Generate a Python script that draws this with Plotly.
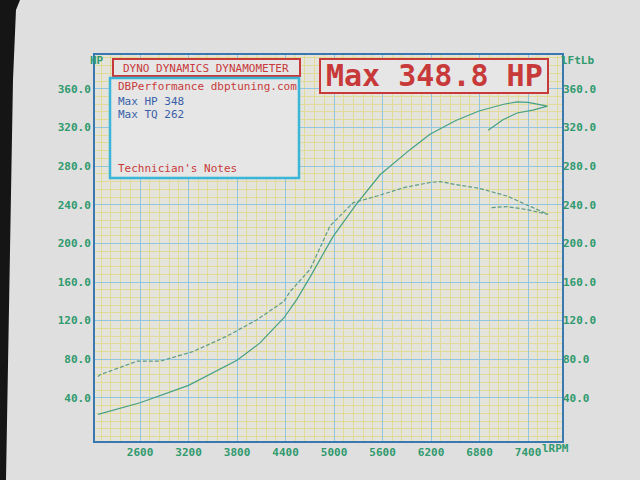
import plotly.graph_objects as go

# ---- data ----
hp_rpm = [2080, 2600, 3200, 3800, 4084, 4381, 4540, 4703, 4987, 5272, 5569, 5940, 6187,
          6500, 6793, 7100, 7264, 7400, 7640, 7460, 7264, 7090, 6905]
hp_val = [23, 35, 53, 79, 97, 123, 142, 165, 207, 240, 271, 297, 313,
          327, 337, 344, 346.5, 346, 342, 338, 335, 328, 317]

tq_rpm = [2080, 2105, 2563, 2847, 3256, 3676, 4047, 4381, 4455, 4703, 4950, 5235, 5531,
          5878, 6187, 6311, 6497, 6719, 6793, 7140, 7387, 7647, 7387, 7140, 6930]
tq_val = [62, 64, 78, 78, 88, 104, 121, 140, 150, 173, 218, 242, 249,
          258, 263, 264, 261, 258, 257, 249, 240, 230, 235, 238, 237]

y_ticks = [40, 80, 120, 160, 200, 240, 280, 320, 360]
y_tick_labels = ["40.0", "80.0", "120.0", "160.0", "200.0", "240.0", "280.0", "320.0", "360.0"]
x_ticks = [2600, 3200, 3800, 4400, 5000, 5600, 6200, 6800, 7400]
x_tick_labels = ["2600", "3200", "3800", "4400", "5000", "5600", "6200", "6800", "7400"]

title_text = "DYNO DYNAMICS DYNAMOMETER"
info_line1 = "DBPerformance dbptuning.com"
info_line2 = "Max HP 348"
info_line3 = "Max TQ 262"
notes_text = "Technician's Notes"
big_text = "Max 348.8 HP"

# ---- layout geometry (pixels) ----
W, H = 640, 480
L, R, T, B = 95, 562, 55, 441


def px(x):
    return (x - L) / (R - L)


def py(y):
    return (B - y) / (B - T)


GREEN = "#2f9a6e"
LINE = "#45a086"
RED = "#c83a3a"
BLUE = "#3a5fa8"
CYAN = "#3ab6d8"
MONO = "DejaVu Sans Mono"

fig = go.Figure()
fig.add_trace(go.Scatter(x=hp_rpm, y=hp_val, mode="lines",
                         line=dict(color=LINE, width=1.2), yaxis="y", showlegend=False))
fig.add_trace(go.Scatter(x=tq_rpm, y=tq_val, mode="lines",
                         line=dict(color="#5a9c84", width=1.2, dash="4px,2px"),
                         yaxis="y2", showlegend=False))

yr = [-4.6, 395]
fig.update_layout(
    width=W, height=H,
    margin=dict(l=L, r=W - R, t=T, b=H - B, pad=0),
    paper_bgcolor="#dfdfdf",
    plot_bgcolor="#e4e3dc",
    showlegend=False,
    xaxis=dict(range=[2043, 7820], tickvals=x_ticks, ticktext=x_tick_labels,
               showgrid=True, gridcolor="#92c6de", gridwidth=1,
               minor=dict(tick0=2600, dtick=120, showgrid=True, gridcolor="#e2da98", gridwidth=1),
               showline=True, linecolor="#3a78b0", linewidth=2, mirror=True,
               ticks="", zeroline=False,
               tickfont=dict(family=MONO, size=11, color=GREEN, weight="bold")),
    yaxis=dict(range=yr, tickvals=y_ticks, ticktext=y_tick_labels,
               showgrid=True, gridcolor="#92c6de", gridwidth=1,
               minor=dict(tick0=0, dtick=8, showgrid=True, gridcolor="#e2da98", gridwidth=1),
               showline=True, linecolor="#3a78b0", linewidth=2, mirror=True,
               ticks="", zeroline=False,
               tickfont=dict(family=MONO, size=11, color=GREEN, weight="bold")),
    yaxis2=dict(range=yr, tickvals=y_ticks, ticktext=y_tick_labels, overlaying="y",
                side="right", showgrid=False, zeroline=False, ticks="",
                tickfont=dict(family=MONO, size=11, color=GREEN, weight="bold")),
)

shapes = [
    # dark photo edge at the top left
    dict(type="path", xref="paper", yref="paper", layer="above",
         path="M {:.4f} {:.4f} L {:.4f} {:.4f} L {:.4f} {:.4f} L {:.4f} {:.4f} L {:.4f} {:.4f} L {:.4f} {:.4f} Z".format(
             px(0), py(0), px(20), py(0), px(16), py(10), px(13), py(80), px(6), py(480), px(0), py(480)),
         line=dict(width=0), fillcolor="#151515"),
    # title box
    dict(type="rect", xref="paper", yref="paper", x0=px(113), x1=px(300), y0=py(76), y1=py(59),
         line=dict(color=RED, width=2), fillcolor="#e6e6e6"),
    # info box
    dict(type="rect", xref="paper", yref="paper", x0=px(110), x1=px(299), y0=py(178), y1=py(78),
         line=dict(color=CYAN, width=2.5), fillcolor="#e6e6e6"),
    # big max box
    dict(type="rect", xref="paper", yref="paper", x0=px(320), x1=px(548), y0=py(93), y1=py(59),
         line=dict(color=RED, width=2), fillcolor="#e6e6e6"),
]
fig.update_layout(shapes=shapes)


def note(text, x, y, color, size=11, anchor="left", weight="normal"):
    fig.add_annotation(text=text, xref="paper", yref="paper", x=px(x), y=py(y),
                       xanchor=anchor, yanchor="middle", showarrow=False,
                       font=dict(family=MONO, size=size, color=color, weight=weight))


note(title_text, 206, 68, RED, 11, "center")
note(info_line1, 116, 87, RED, 11)
note(info_line2, 116, 101, BLUE, 11)
note(info_line3, 116, 114, BLUE, 11)
note(notes_text, 116, 168, RED, 11)
note(big_text, 434, 76, RED, 30, "center", "bold")
note("HP", 106, 60, GREEN, 11, "right", "bold")
note("lFtLb", 559, 60, GREEN, 11, "left", "bold")
note("lRPM", 540, 448, GREEN, 11, "left", "bold")

fig.write_html("out.html", config={"displayModeBar": False},
               post_script="document.body.style.margin='0';document.body.style.overflow='hidden';")
